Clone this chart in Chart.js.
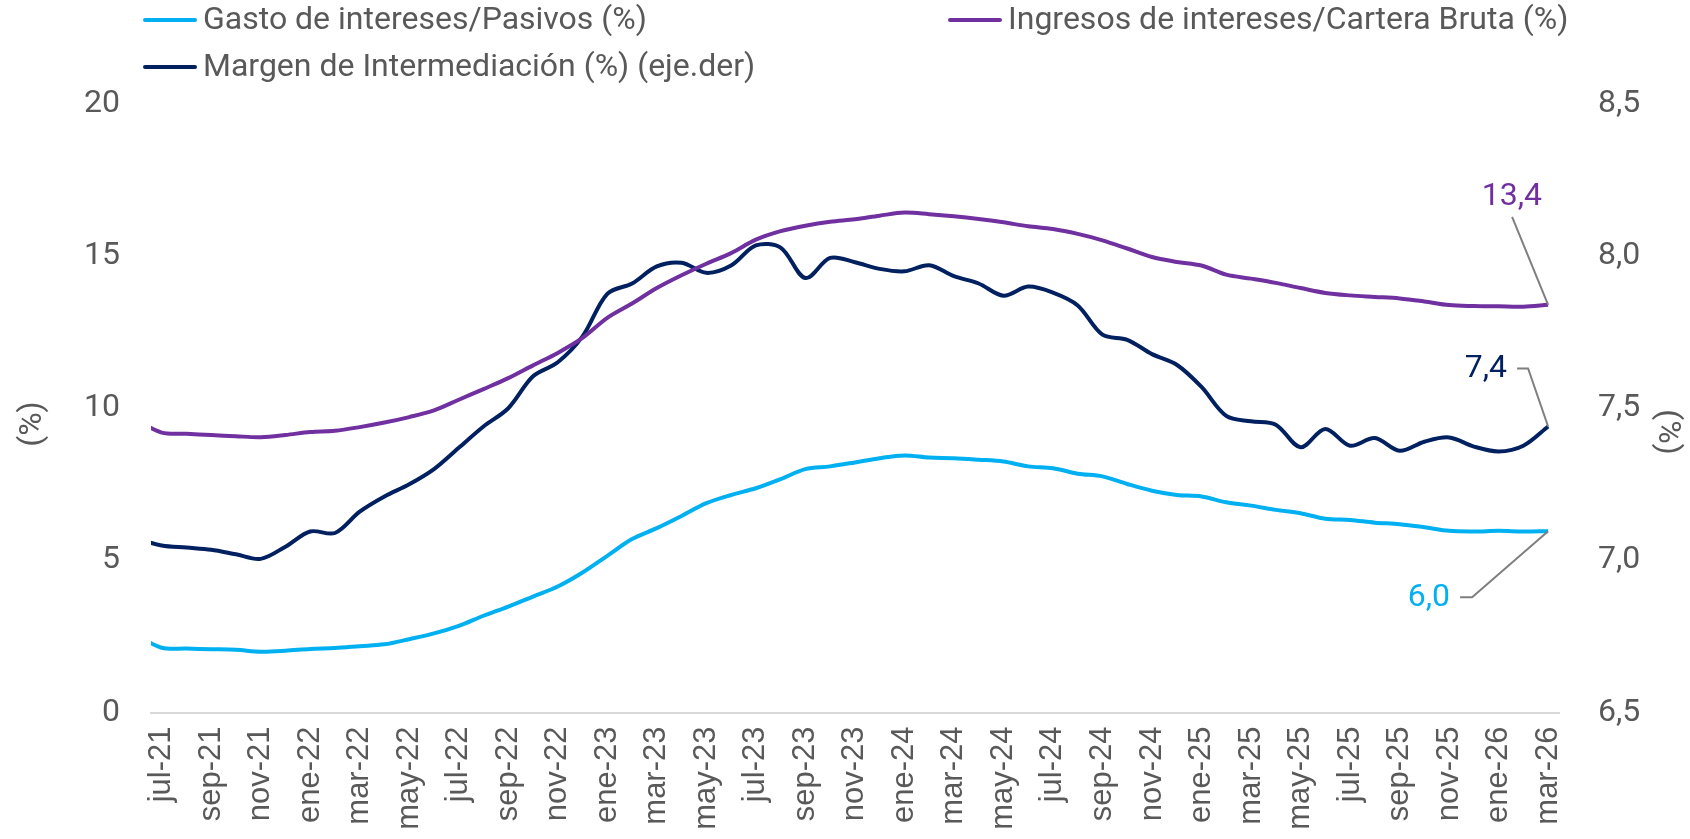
<!DOCTYPE html>
<html>
<head>
<meta charset="utf-8">
<script src="https://cdn.jsdelivr.net/npm/chart.js@4/dist/chart.umd.min.js"></script>
<style>
  html, body { margin: 0; padding: 0; background: #fff; }
  #wrap { width: 1690px; height: 839px; }
</style>
</head>
<body>
<div id="wrap"><canvas id="chart" width="1690" height="839"></canvas></div>
<script>
// meses (jun-21 solo asoma recortado por el borde izquierdo del eje)
const meses = ['jun-21',
  'jul-21','ago-21','sep-21','oct-21','nov-21','dic-21','ene-22','feb-22','mar-22','abr-22','may-22','jun-22',
  'jul-22','ago-22','sep-22','oct-22','nov-22','dic-22','ene-23','feb-23','mar-23','abr-23','may-23','jun-23',
  'jul-23','ago-23','sep-23','oct-23','nov-23','dic-23','ene-24','feb-24','mar-24','abr-24','may-24','jun-24',
  'jul-24','ago-24','sep-24','oct-24','nov-24','dic-24','ene-25','feb-25','mar-25','abr-25','may-25','jun-25',
  'jul-25','ago-25','sep-25','oct-25','nov-25','dic-25','ene-26','feb-26','mar-26']

const gastoPasivos = [2.52,
  2.13, 2.10, 2.08, 2.06, 2.00, 2.03, 2.09, 2.12, 2.18, 2.24,
  2.41, 2.60, 2.85, 3.18, 3.48, 3.81, 4.14, 4.60, 5.15, 5.70,
  6.06, 6.46, 6.88, 7.15, 7.37, 7.67, 8.00, 8.09, 8.22, 8.36,
  8.45, 8.38, 8.36, 8.31, 8.25, 8.09, 8.03, 7.85, 7.76, 7.51,
  7.29, 7.15, 7.10, 6.91, 6.80, 6.66, 6.55, 6.37, 6.33, 6.24,
  6.19, 6.09, 5.97, 5.95, 5.97, 5.95, 5.96]

const ingresosCartera = [9.60,
  9.20, 9.16, 9.12, 9.08, 9.05, 9.12, 9.22, 9.26, 9.38, 9.53,
  9.71, 9.93, 10.28, 10.63, 10.99, 11.41, 11.82, 12.31, 12.97, 13.44,
  13.95, 14.37, 14.75, 15.10, 15.54, 15.82, 16.00, 16.13, 16.21, 16.33,
  16.43, 16.38, 16.31, 16.22, 16.11, 15.98, 15.89, 15.73, 15.52, 15.25,
  14.97, 14.81, 14.69, 14.39, 14.26, 14.12, 13.95, 13.79, 13.71, 13.66,
  13.61, 13.51, 13.39, 13.36, 13.35, 13.34, 13.40]

const margenInter = [7.071,
  7.049, 7.042, 7.035, 7.020, 7.005, 7.045, 7.095, 7.090, 7.160, 7.210,
  7.250, 7.300, 7.370, 7.440, 7.500, 7.605, 7.651, 7.736, 7.876, 7.910,
  7.966, 7.978, 7.945, 7.969, 8.035, 8.028, 7.928, 7.994, 7.980, 7.958,
  7.950, 7.970, 7.934, 7.910, 7.870, 7.900, 7.880, 7.838, 7.742, 7.725,
  7.678, 7.643, 7.570, 7.475, 7.457, 7.446, 7.372, 7.432, 7.377, 7.402,
  7.360, 7.390, 7.404, 7.374, 7.358, 7.377, 7.440]

const ticksIzq = [0, 5, 10, 15, 20]
const ticksDer = [6.5, 7.0, 7.5, 8.0, 8.5]

const GRIS = '#595959'
const FONT = 'Roboto'
const coma = v => v.toFixed(1).replace('.', ',')
const toXY = arr => arr.map((y, i) => ({ x: i - 1, y }))

// etiquetas del ultimo dato: desplazamiento del texto y quiebre de la guia
const etiquetas = [
  { dx: -98, dy: 67, guia: [[-88, 66], [-76, 66]] },
  { dx: -6, dy: -108, guia: [[-36, -88]] },
  { dx: -41, dy: -58, guia: [[-31, -58], [-20, -58]] }
]

const overlay = {
  id: 'overlay',
  afterDraw(chart) {
    const ctx = chart.ctx
    const ds = chart.data.datasets
    ctx.save()

    // leyenda
    const pos = [[143, 20], [948, 20], [143, 67]]
    ctx.font = `32px ${FONT}`
    ctx.textBaseline = 'middle'
    ctx.textAlign = 'left'
    ds.forEach((d, i) => {
      const [x, y] = pos[i]
      ctx.strokeStyle = d.borderColor
      ctx.lineWidth = 4
      ctx.lineCap = 'round'
      ctx.beginPath(); ctx.moveTo(x + 2, y); ctx.lineTo(x + 52, y); ctx.stroke()
      ctx.fillStyle = GRIS
      ctx.fillText(d.label, x + 60, y + 1)
    })

    // titulos de ejes
    ctx.fillStyle = GRIS
    ctx.textAlign = 'center'
    ctx.save(); ctx.translate(33, 424); ctx.rotate(-Math.PI / 2); ctx.fillText('(%)', 0, 0); ctx.restore()
    ctx.save(); ctx.translate(1667, 432); ctx.rotate(Math.PI / 2); ctx.fillText('(%)', 0, 0); ctx.restore()

    // valor final de cada serie
    ds.forEach((d, i) => {
      const meta = chart.getDatasetMeta(i)
      const pt = meta.data[meta.data.length - 1]
      const e = etiquetas[i]
      ctx.strokeStyle = '#7f7f7f'
      ctx.lineWidth = 2
      ctx.lineCap = 'butt'
      ctx.beginPath()
      e.guia.forEach(([gx, gy], k) => k ? ctx.lineTo(pt.x + gx, pt.y + gy) : ctx.moveTo(pt.x + gx, pt.y + gy))
      ctx.lineTo(pt.x, pt.y)
      ctx.stroke()
      ctx.fillStyle = d.borderColor
      ctx.textAlign = 'right'
      ctx.font = `32px ${FONT}`
      ctx.fillText(coma(d.data[d.data.length - 1].y), pt.x + e.dx, pt.y + e.dy)
    })
    ctx.restore()
  }
}

const serie = (label, data, color, axis) => ({
  label, data: toXY(data), yAxisID: axis,
  borderColor: color, backgroundColor: color,
  borderWidth: 4, pointRadius: 0, tension: 0.33,
  clip: { left: 0, top: false, right: false, bottom: false }
})

new Chart(document.getElementById('chart'), {
  type: 'line',
  data: {
    datasets: [
      serie('Gasto de intereses/Pasivos (%)', gastoPasivos, '#00b0f0', 'y'),
      serie('Ingresos de intereses/Cartera Bruta (%)', ingresosCartera, '#7030a0', 'y'),
      serie('Margen de Intermediación (%) (eje.der)', margenInter, '#002060', 'y1')
    ]
  },
  options: {
    responsive: false,
    animation: false,
    devicePixelRatio: 1,
    layout: { padding: { top: 104, left: 0, right: 0, bottom: 0 } },
    plugins: { legend: { display: false }, tooltip: { enabled: false } },
    scales: {
      x: {
        type: 'linear', min: -0.43, max: 56.44,
        afterBuildTicks: s => { s.ticks = meses.slice(1).map((m, k) => ({ value: k })).filter(t => t.value % 2 === 0) },
        afterFit: s => { s.height = 126.5 },
        grid: { display: false, drawTicks: false },
        border: { display: true, color: '#d9d9d9', width: 2 },
        ticks: {
          autoSkip: false, minRotation: 90, maxRotation: 90, padding: 14,
          color: GRIS, font: { family: 'Liberation Sans', size: 31 },
          callback: v => meses[v + 1]
        }
      },
      y: {
        position: 'left', min: 0, max: 20,
        afterBuildTicks: s => { s.ticks = ticksIzq.map(value => ({ value })) },
        afterFit: s => { s.width = 151 },
        grid: { display: false, drawTicks: false },
        border: { display: false },
        ticks: { padding: 31, color: GRIS, font: { family: FONT, size: 32 }, callback: v => String(v) }
      },
      y1: {
        position: 'right', min: 6.5, max: 8.5,
        afterBuildTicks: s => { s.ticks = ticksDer.map(value => ({ value })) },
        afterFit: s => { s.width = 131 },
        grid: { display: false, drawTicks: false },
        border: { display: false },
        ticks: { padding: 39, color: GRIS, font: { family: FONT, size: 32 }, callback: v => coma(v) }
      }
    }
  },
  plugins: [overlay]
})
</script>
</body>
</html>
